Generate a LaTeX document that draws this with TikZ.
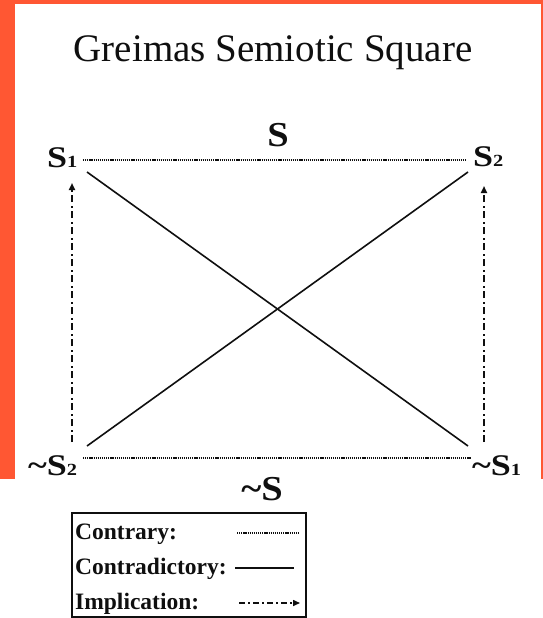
\documentclass[tikz,border=0pt]{standalone}
\usepackage{fontspec}
\usepackage{graphicx}
\setmainfont{Liberation Serif}
\usetikzlibrary{arrows.meta}
\definecolor{frameorange}{RGB}{255,87,51}
\definecolor{ink}{RGB}{15,15,15}
\newcommand\glab[2]{\scalebox{1.2}[1]{#1S{\fontsize{17}{17}\selectfont #2}}}
\begin{document}
\begin{tikzpicture}[x=1pt,y=-1pt,
  lbl/.style={font=\bfseries\fontsize{30}{30}\selectfont, inner sep=0pt, anchor=base west, text=ink},
  biglbl/.style={font=\bfseries\fontsize{35}{35}\selectfont, inner sep=0pt, anchor=base, text=ink},
  legtext/.style={font=\bfseries\fontsize{23.5}{23.5}\selectfont, inner sep=0pt, anchor=base west, text=ink},
  contrary/.style={draw=ink, line width=1.2pt, dash pattern=on 1.2pt off 0.9pt},
  contradictory/.style={draw=ink, line width=1.6pt},
  implication/.style={draw=ink, line width=1.8pt, dash pattern=on 7pt off 3.5pt on 2pt off 3.5pt, -{Triangle[length=7pt,width=6pt]}},
]
\useasboundingbox (0,0) rectangle (543,618);
\fill[frameorange] (0,0) rectangle (543,479);
\fill[white] (15,4) rectangle (540.5,479);

\node[font=\fontsize{39}{39}\selectfont, anchor=base, inner sep=0pt, text=ink] (title) at (273,61) {Greimas Semiotic Square};

\node[biglbl] (S) at (278,146) {\scalebox{1.1}[1]{S}};
\node[biglbl] (notS) at (262,500) {\scalebox{1.1}[1]{\char`\~S}};

\node[lbl] (s1) at (47,167) {\glab{}{1}};
\node[lbl] (s2) at (473,166) {\glab{}{2}};
\node[lbl] (ns2) at (28,475) {\glab{\char`\~}{2}};
\node[lbl] (ns1) at (472,475) {\glab{\char`\~}{1}};

% contrary (dotted)
\coordinate (ta) at (83,160);
\coordinate (tb) at (466,160);
\coordinate (ba) at (83,458);
\coordinate (bb) at (471,458);
\draw[contrary] (ta) -- (tb);
\draw[contrary] (ba) -- (bb);

% contradictory (solid diagonals)
\coordinate (d1a) at (87,172);
\coordinate (d1b) at (468,446);
\coordinate (d2a) at (468,172);
\coordinate (d2b) at (87,446);
\draw[contradictory] (d1a) -- (d1b);
\draw[contradictory] (d2a) -- (d2b);

% implication (vertical arrows)
\coordinate (la) at (72,442);
\coordinate (lb) at (72,183);
\coordinate (ra) at (484,442);
\coordinate (rb) at (484,186);
\draw[implication] (la) -- (lb);
\draw[implication] (ra) -- (rb);

% legend
\node[draw=ink, line width=1.2pt, minimum width=234pt, minimum height=104pt, inner sep=0pt] (legend) at (189,565) {};
\node[legtext] (t1) at (75,539) {Contrary:};
\node[legtext] (t2) at (75,574) {Contradictory:};
\node[legtext] (t3) at (75,609) {Implication:};
\coordinate (c1a) at (237,533);
\coordinate (c1b) at (298,533);
\coordinate (c2a) at (235,568);
\coordinate (c2b) at (294,568);
\coordinate (c3a) at (239,603);
\coordinate (c3b) at (300,603);
\draw[contrary] (c1a) -- (c1b);
\draw[contradictory] (c2a) -- (c2b);
\draw[implication, line width=1.5pt, dash pattern=on 6pt off 3pt on 2pt off 3pt] (c3a) -- (c3b);
\end{tikzpicture}
\end{document}
